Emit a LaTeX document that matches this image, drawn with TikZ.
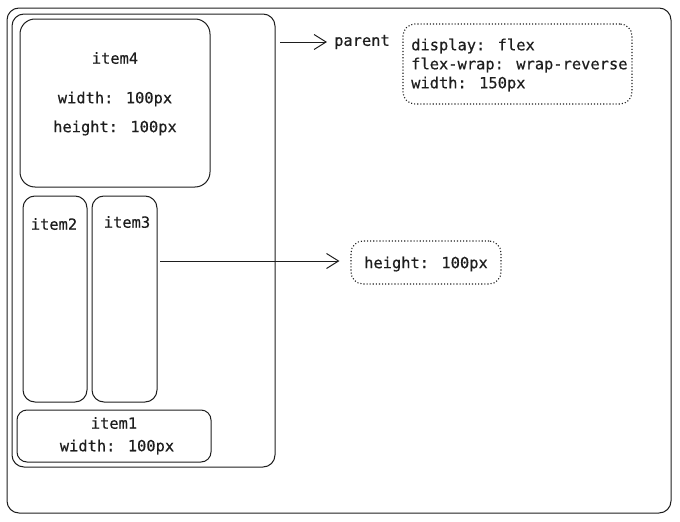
\documentclass[tikz,border=0pt]{standalone}
\usepackage{fontspec}
\newfontfamily\notemono[FakeBold=0.5]{DejaVu Sans Mono}
\usetikzlibrary{arrows.meta}
\definecolor{ink}{HTML}{1E1E1E}
\tikzset{
  x=1pt,y=-1pt,
  box/.style={draw=ink, line width=1pt, rounded corners=12pt, inner sep=0pt},
  dotbox/.style={draw=ink, line width=1.1pt, dotted, rounded corners=12pt, inner sep=0pt},
  lbl/.style={font=\notemono\fontsize{15.4}{19}\selectfont, text=ink, inner sep=0pt},
  arr/.style={draw=ink, line width=1pt, -{Straight Barb[length=12pt,width=15pt,line width=1pt]}}
}
\begin{document}
\begin{tikzpicture}
\useasboundingbox (0,0) rectangle (680,522);
% outer frame
\node[box, minimum width=664pt, minimum height=505pt] (frame) at (339,260.5) {};
% parent
\node[box, minimum width=263pt, minimum height=453pt] (parent) at (143.5,240.5) {};
% items
\node[box, rounded corners=15pt, minimum width=190pt, minimum height=168pt] (item4) at (115,103) {};
\node[lbl] (item4a) at (115,58) {item4};
\node[lbl] (item4b) at (115,99) {width: 100px};
\node[lbl] (item4c) at (115,128) {height: 100px};
\node[box, minimum width=64pt, minimum height=206pt] (item2) at (55,299) {};
\node[lbl] (item2t) at (54,224) {item2};
\node[box, minimum width=65pt, minimum height=206pt] (item3) at (124.5,299) {};
\node[lbl] (item3t) at (127,222) {item3};
\node[box, rounded corners=10pt, minimum width=194pt, minimum height=52pt] (item1) at (114,436) {};
\node[lbl] (item1a) at (114,423) {item1};
\node[lbl] (item1b) at (117,447) {width: 100px};
% parent label and notes
\node[lbl] (plbl) at (362,42) {parent};
\node[dotbox, minimum width=229pt, minimum height=80pt] (note1) at (517.5,64) {};
\node[lbl, anchor=west, align=left] (note1t) at (411,65) {display: flex\\flex-wrap: wrap-reverse\\width: 150px};
\node[dotbox, minimum width=150pt, minimum height=43pt] (note2) at (426,262.5) {};
\node[lbl] (note2t) at (426,264) {height: 100px};
% arrows
\coordinate (a1s) at (280,42);
\draw[arr] (a1s) -- ([xshift=-7pt]plbl.west);
\coordinate (a2s) at (160,261);
\draw[arr] (a2s) -- ([xshift=-11pt]note2.west |- a2s);
\end{tikzpicture}
\end{document}
